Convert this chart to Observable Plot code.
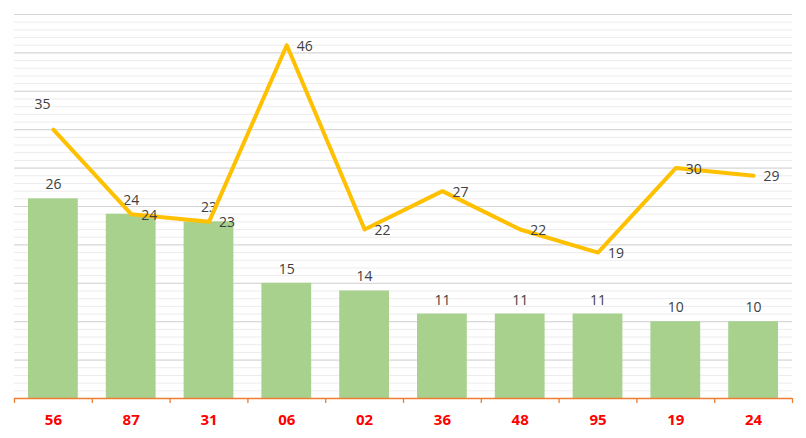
<!DOCTYPE html>
<html>
<head>
<meta charset="utf-8">
<script src="https://cdn.jsdelivr.net/npm/d3@7"></script>
<script src="https://cdn.jsdelivr.net/npm/@observablehq/plot@0.6"></script>
<style>
  html, body { margin: 0; padding: 0; background: #fff; }
  #chart svg { display: block; }
</style>
</head>
<body>
<div id="chart"></div>
<script>
const categories = ["56", "87", "31", "06", "02", "36", "48", "95", "19", "24"];
const barValues = [26, 24, 23, 15, 14, 11, 11, 11, 10, 10];
const lineValues = [35, 24, 23, 46, 22, 27, 22, 19, 30, 29];

const data = categories.map((c, i) => ({cat: c, bar: barValues[i], line: lineValues[i], i}));

const W = 806, H = 438;
const mL = 14, mR = 14, mT = 14, mB = 40;
const step = (W - mL - mR) / categories.length;
const frameH = H - mT - mB;
const font = "'Open Sans', 'Noto Sans', sans-serif";

const chart = Plot.plot({
  width: W,
  height: H,
  marginLeft: mL,
  marginRight: mR,
  marginTop: mT,
  marginBottom: mB,
  style: {fontFamily: font, background: "#fff"},
  x: {domain: categories, paddingInner: 0.36, paddingOuter: 0.18, round: false, axis: null},
  y: {domain: [0, 50], axis: null},
  marks: [
    Plot.gridY(d3.range(0, 51, 1), {stroke: "#ececec", strokeOpacity: 1, strokeWidth: 1}),
    Plot.gridY(d3.range(0, 51, 5), {stroke: "#d4d4d4", strokeOpacity: 1, strokeWidth: 1}),
    Plot.barY(data, {x: "cat", y: "bar", fill: "#A9D18E"}),
    Plot.ruleY([0], {stroke: "#ED7D31", strokeWidth: 1.3}),
    Plot.ruleX(data, {x: "cat", dx: -step / 2, insetTop: frameH, insetBottom: -5, stroke: "#ED7D31", strokeWidth: 1.3}),
    Plot.ruleX(data.slice(-1), {x: "cat", dx: step / 2, insetTop: frameH, insetBottom: -5, stroke: "#ED7D31", strokeWidth: 1.3}),
    Plot.axisX({
      tickSize: 0, tickPadding: 16, fontSize: 15, fontWeight: "bold",
      fill: "red", color: "red", label: null
    }),
    Plot.text(data, {x: "cat", y: "bar", text: d => String(d.bar), dy: -14, fill: "#404040", fontSize: 14}),
    Plot.line(data, {x: "cat", y: "line", stroke: "#FFC000", strokeWidth: 4, strokeLinejoin: "round", strokeLinecap: "round"}),
    Plot.text(data.filter(d => d.i > 0), {x: "cat", y: "line", text: d => String(d.line), textAnchor: "start", dx: 10, dy: 1, fill: "#404040", fontSize: 14}),
    Plot.text(data.filter(d => d.i === 0), {x: "cat", y: "line", text: d => String(d.line), dx: -11, dy: -25, fill: "#404040", fontSize: 14})
  ]
});

document.getElementById("chart").appendChild(chart);
</script>
</body>
</html>
